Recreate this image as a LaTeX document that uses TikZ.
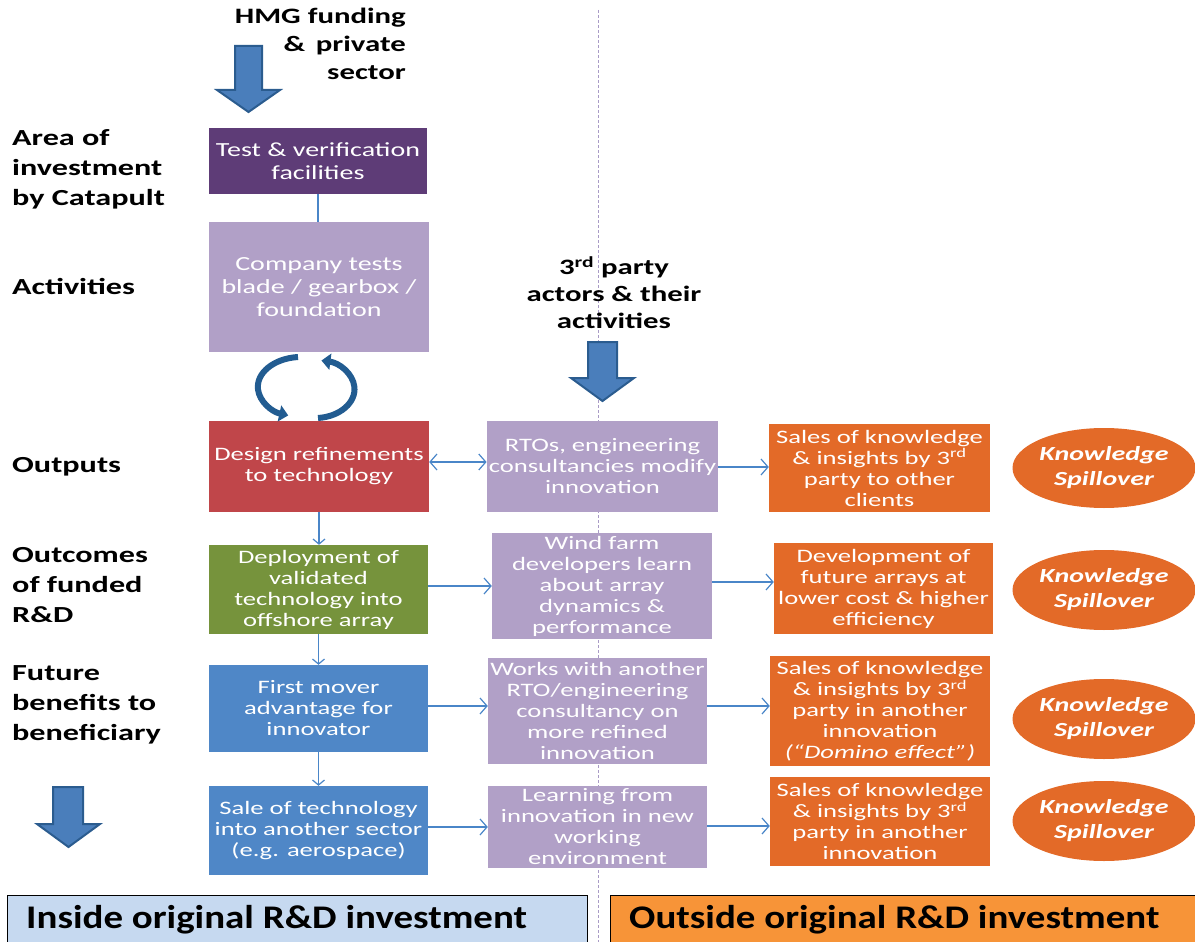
\documentclass[tikz,border=0pt]{standalone}
\usepackage{fontspec}
\setmainfont{Carlito}[FakeStretch=1.4]
\newfontfamily\footerfont{Carlito}[FakeStretch=1.18]
\usetikzlibrary{arrows.meta,shapes.geometric}
\definecolor{darkpurple}{HTML}{5E3C77}
\definecolor{lavender}{HTML}{B1A0C7}
\definecolor{brickred}{HTML}{C0464A}
\definecolor{olivegreen}{HTML}{76933C}
\definecolor{midblue}{HTML}{4F87C7}
\definecolor{burnt}{HTML}{E36A28}
\definecolor{linkblue}{HTML}{4A86C8}
\definecolor{blockfill}{HTML}{4A7EBB}
\definecolor{blockedge}{HTML}{2B5C8F}
\definecolor{cyclecol}{HTML}{225C91}
\definecolor{insidefill}{HTML}{C6D9F0}
\definecolor{outsidefill}{HTML}{F79438}
\definecolor{divider}{HTML}{A99BC6}
\tikzset{
  stage/.style={rectangle, inner sep=2pt, align=center, text=white,
    font=\fontsize{19}{21}\selectfont},
  rowlabel/.style={anchor=west, align=left, inner sep=0pt,
    font=\fontsize{23}{30}\selectfont\bfseries},
  spill/.style={ellipse, fill=burnt, minimum width=178pt, minimum height=80pt,
    inner sep=0pt, align=center, text=white,
    font=\fontsize{20}{25}\selectfont\bfseries\itshape},
  link/.style={draw=linkblue, line width=1.2pt, -{Straight Barb[length=7pt,width=16pt]}},
  linkboth/.style={draw=linkblue, line width=1.2pt,
    {Straight Barb[length=7pt,width=16pt]}-{Straight Barb[length=7pt,width=16pt]}},
  blockarrow/.style={fill=blockfill, draw=blockedge, line width=2pt, line join=miter},
  cycle/.style={draw=cyclecol, line width=6pt, -{Triangle[length=9pt,width=16pt]}},
}
\begin{document}
\begin{tikzpicture}[x=1pt,y=-1pt]
\useasboundingbox (0,0) rectangle (1195,942);

% dividing line between inside and outside the investment
\draw[divider, dashed, dash pattern=on 3pt off 2pt, line width=1pt] (598,10) -- (598,942);

% funding input
\node[anchor=north east, align=right, inner sep=0pt,
  font=\fontsize{22}{28}\selectfont\bfseries] (hmg) at (406,8)
  {HMG funding\\\& \,private\\sector};
\draw[blockarrow] (235,46) -- (262,46) -- (262,90) -- (280,90) -- (248.5,112)
  -- (217,90) -- (235,90) -- cycle;

% row labels
\node[rowlabel] (lbarea) at (12,169) {Area of\\investment\\by Catapult};
\node[rowlabel] (lbact) at (12,286) {Activities};
\node[rowlabel] (lbout) at (12,467) {Outputs};
\node[rowlabel] (lboutc) at (12,585) {Outcomes\\of funded\\R\&D};
\node[rowlabel] (lbfut) at (12,705) {Future\\benefits to\\beneficiary};

% inside column
\node[stage, fill=darkpurple, minimum width=218pt, minimum height=66pt,
  font=\fontsize{20}{23}\selectfont] (test) at (318,161)
  {Test \& verification\\facilities};
\node[stage, fill=lavender, minimum width=220pt, minimum height=130pt,
  font=\fontsize{20}{23}\selectfont] (company) at (319,287)
  {Company tests\\blade / gearbox /\\foundation};
\node[stage, fill=brickred, minimum width=220pt, minimum height=91pt] (design)
  at (319,466.5) {Design refinements\\to technology};
\node[stage, fill=olivegreen, minimum width=219pt, minimum height=89pt] (deploy)
  at (318.5,589.5) {Deployment of\\validated\\technology into\\offshore array};
\node[stage, fill=midblue, minimum width=219pt, minimum height=87pt] (first)
  at (318.5,708.5) {First mover\\advantage for\\innovator};
\node[stage, fill=midblue, minimum width=219pt, minimum height=89pt] (sale)
  at (318.5,830.5) {Sale of technology\\into another sector\\(e.g. aerospace)};

% third party column
\node[anchor=north, align=center, inner sep=0pt,
  font=\fontsize{22}{27}\selectfont\bfseries] (third) at (614,256)
  {3\textsuperscript{rd} party\\actors \& their\\activities};
\draw[blockarrow] (588,342) -- (617,342) -- (617,378) -- (634,378) -- (602.5,401)
  -- (571,378) -- (588,378) -- cycle;

\node[stage, fill=lavender, minimum width=229pt, minimum height=91pt] (rtos)
  at (602.5,466.5) {RTOs, engineering\\consultancies modify\\innovation};
\node[stage, fill=lavender, minimum width=220pt, minimum height=106pt] (wind)
  at (602,586) {Wind farm\\developers learn\\about array\\dynamics \&\\performance};
\node[stage, fill=lavender, minimum width=219pt, minimum height=106pt] (works)
  at (597.5,711) {Works with another\\RTO/engineering\\consultancy on\\more refined\\innovation};
\node[stage, fill=lavender, minimum width=219pt, minimum height=82pt] (learn)
  at (597.5,827) {Learning from\\innovation in new\\working\\environment};

% outside column
\node[stage, fill=burnt, minimum width=221pt, minimum height=88pt] (sales1)
  at (879.5,468) {Sales of knowledge\\\& insights by 3\textsuperscript{rd}\\party to other\\clients};
\node[stage, fill=burnt, minimum width=219pt, minimum height=91pt] (dev)
  at (883.5,588.5) {Development of\\future arrays at\\lower cost \& higher\\efficiency};
\node[stage, fill=burnt, minimum width=220pt, minimum height=110pt] (sales3)
  at (880,711) {Sales of knowledge\\\& insights by 3\textsuperscript{rd}\\party in another\\innovation\\\textit{(“Domino effect”)}};
\node[stage, fill=burnt, minimum width=220pt, minimum height=89pt] (sales4)
  at (880,821.5) {Sales of knowledge\\\& insights by 3\textsuperscript{rd}\\party in another\\innovation};

\node[spill] (ks1) at (1104,468) {Knowledge\\Spillover};
\node[spill] (ks2) at (1104,590) {Knowledge\\Spillover};
\node[spill] (ks3) at (1104,719) {Knowledge\\Spillover};
\node[spill] (ks4) at (1104,821) {Knowledge\\Spillover};

% vertical links
\draw[linkblue, line width=1.2pt] (test.south) -- (test.south |- company.north);
\draw[link, -{Straight Barb[length=5pt,width=12pt]}] (design.south) -- (design.south |- deploy.north);
\draw[link, -{Straight Barb[length=5pt,width=12pt]}] (deploy.south) -- (deploy.south |- first.north);
\draw[link, -{Straight Barb[length=5pt,width=12pt]}] (first.south) -- (first.south |- sale.north);

% iteration loop between testing and refinement
\draw[cycle] (298,357) arc[start angle=95, end angle=252, x radius=44pt, y radius=30pt];
\draw[cycle] (318,418) arc[start angle=-85, end angle=80, x radius=40pt, y radius=29pt];

% horizontal links
\draw[linkboth] (design.east |- 0,462) -- (rtos.west |- 0,462);
\draw[link] (rtos.east |- 0,467) -- (sales1.west |- 0,467);
\draw[link] (deploy.east |- 0,586) -- (wind.west |- 0,586);
\draw[link] (wind.east |- 0,582) -- (dev.west |- 0,582);
\draw[link] (first.east |- 0,706) -- (works.west |- 0,706);
\draw[link] (works.east |- 0,706) -- (sales3.west |- 0,706);
\draw[link] (sale.east |- 0,827) -- (learn.west |- 0,827);
\draw[link] (learn.east |- 0,826) -- (sales4.west |- 0,826);

% downward arrow on the left
\draw[blockarrow] (53,787) -- (83,787) -- (83,824) -- (100,824) -- (68.5,847)
  -- (37,824) -- (53,824) -- cycle;

% footer bars
\node[draw=black, line width=1.2pt, fill=insidefill, minimum width=580pt,
  minimum height=56pt, anchor=north west, inner sep=0pt] (inside) at (7,895) {};
\node[anchor=west, inner sep=0pt, font=\footerfont\fontsize{33}{36}\selectfont\bfseries]
  (insidetxt) at (26,920) {Inside original R\&D investment};
\node[draw=black, line width=1.2pt, fill=outsidefill, minimum width=590pt,
  minimum height=56pt, anchor=north west, inner sep=0pt] (outside) at (610,895) {};
\node[anchor=west, inner sep=0pt, font=\footerfont\fontsize{33}{36}\selectfont\bfseries]
  (outsidetxt) at (629,920) {Outside original R\&D investment};
\end{tikzpicture}
\end{document}
